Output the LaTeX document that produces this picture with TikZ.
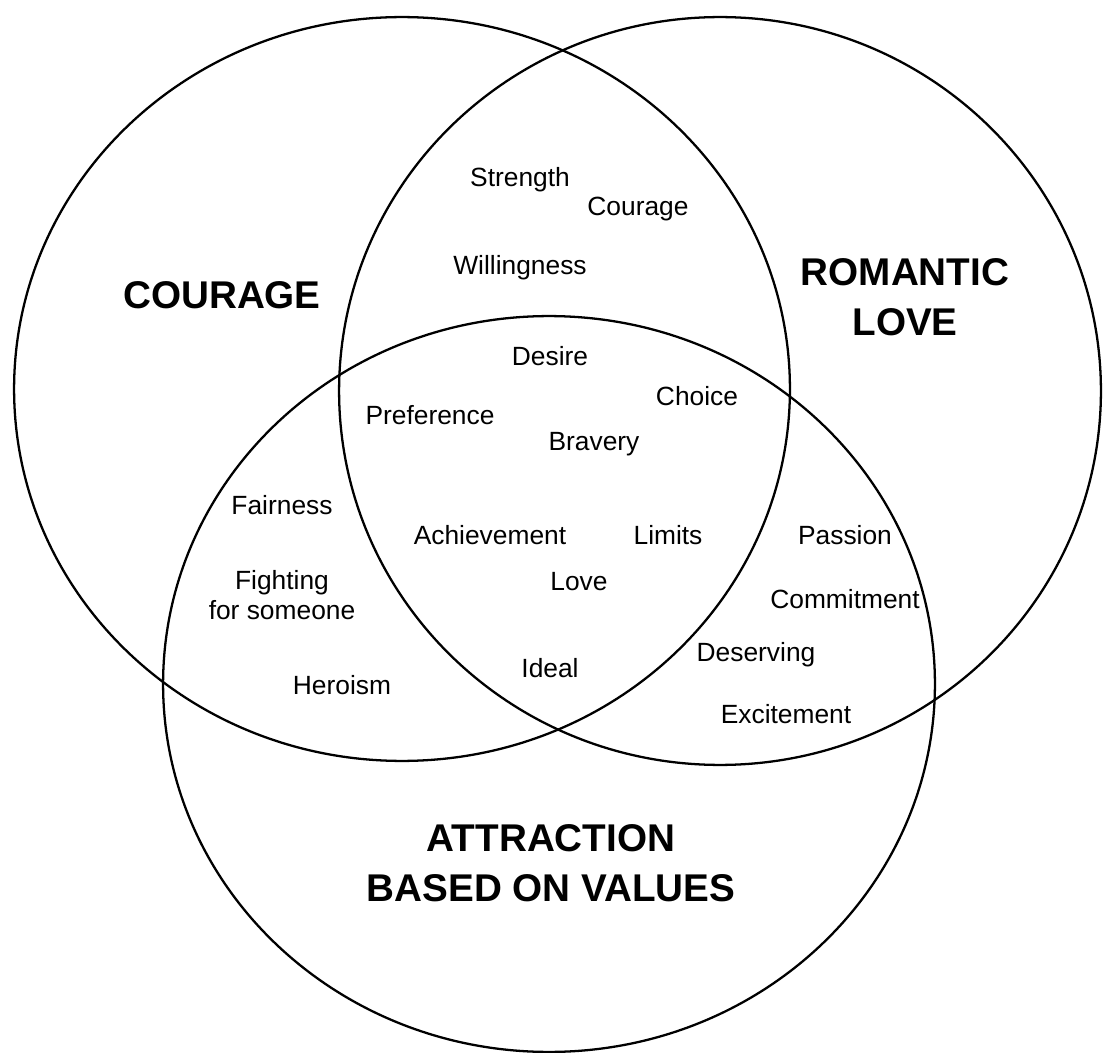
\documentclass[tikz,border=0pt]{standalone}
\usepackage{fontspec}
\setmainfont{Liberation Sans}
\begin{document}
\begin{tikzpicture}[
  x=0.02cm, y=-0.02cm,
  set/.style={draw, line width=1.3pt},
  title/.style={font=\fontsize{22}{28.5}\selectfont\bfseries, align=center, inner sep=0pt},
  term/.style={font=\fontsize{15}{17}\selectfont, align=center, inner sep=0pt}
]
\useasboundingbox (0,0) rectangle (1104,1053);

% the three sets
\coordinate (courage) at (402,389);
\coordinate (romance) at (720,391);
\coordinate (attract) at (549,684);
\draw[set] (courage) ellipse [x radius=7.76cm, y radius=7.44cm];
\draw[set] (romance) ellipse [x radius=7.62cm, y radius=7.48cm];
\draw[set] (attract) ellipse [x radius=7.72cm, y radius=7.36cm];

% set names
\node[title] (tcourage) at (222,295) {COURAGE};
\node[title] (tromance) at (905,297) {ROMANTIC\\LOVE};
\node[title] (tattract) at (551,863) {ATTRACTION\\BASED ON VALUES};

% courage and love
\node[term] (strength) at (520,180) {Strength};
\node[term] (courage2) at (638,209) {Courage};
\node[term] (willing) at (520,268) {Willingness};

% all three
\node[term] (desire) at (550,356) {Desire};
\node[term] (choice) at (697,396) {Choice};
\node[term] (prefer) at (430,415) {Preference};
\node[term] (bravery) at (594,444) {Bravery};
\node[term] (achieve) at (490,535) {Achievement};
\node[term] (limits) at (668,535) {Limits};
\node[term] (love) at (579,582) {Love};
\node[term] (ideal) at (550,668) {Ideal};

% courage and attraction
\node[term] (fair) at (282,505) {Fairness};
\node[term] (fight) at (282,595) {Fighting\\for someone};
\node[term] (hero) at (342,685) {Heroism};

% love and attraction
\node[term] (passion) at (845,535) {Passion};
\node[term] (commit) at (845,599) {Commitment};
\node[term] (deserve) at (756,655) {Deserving};
\node[term] (excite) at (786,714) {Excitement};
\end{tikzpicture}
\end{document}
